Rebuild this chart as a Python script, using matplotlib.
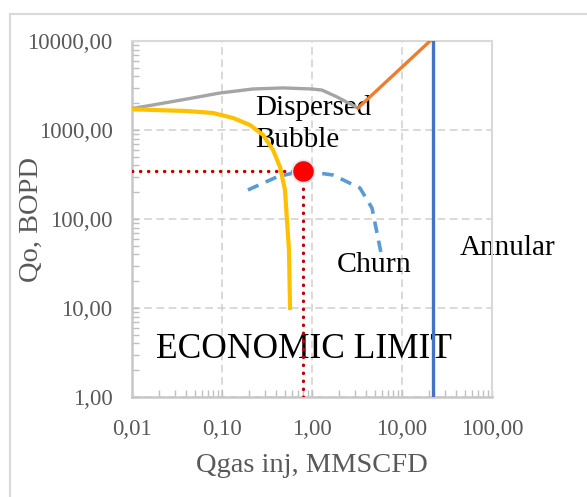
import matplotlib
matplotlib.use("Agg")
import matplotlib.pyplot as plt
from matplotlib.lines import Line2D

# ---- data ----
x_ticks = [0.01, 0.1, 1, 10, 100]
x_tick_labels = ["0,01", "0,10", "1,00", "10,00", "100,00"]
y_ticks = [1, 10, 100, 1000, 10000]
y_tick_labels = ["1,00", "10,00", "100,00", "1000,00", "10000,00"]

bubble_x = [0.01, 0.0171, 0.0408, 0.095, 0.221, 0.476, 1.0, 1.29, 1.90, 3.24]
bubble_y = [1745, 1910, 2230, 2605, 2890, 2970, 2890, 2810, 2350, 1766]

dispersed_x = [3.24, 20.5]
dispersed_y = [1766, 10000]

ipr_x = [0.01, 0.0171, 0.0408, 0.0794, 0.1325, 0.205, 0.286, 0.369, 0.441, 0.501, 0.527, 0.555, 0.57]
ipr_y = [1710, 1680, 1635, 1553, 1365, 1137, 880, 596, 384, 212, 97.5, 44.9, 10]

churn_x = [0.194, 0.408, 0.79, 1.71, 3.41, 4.64, 5.27, 6.0]
churn_y = [212, 297, 349, 312, 223, 133, 70, 36.5]

annular_x = [22.1, 22.1]
annular_y = [1, 10000]

op_x = 0.79
op_y = 349

W, H = 587, 497
fig = plt.figure(figsize=(W / 100, H / 100), dpi=100)
fig.patch.set_facecolor("white")

# outer chart-area border
fig.add_artist(Line2D([9.5 / W, 1.0], [1 - 14 / H, 1 - 14 / H], color="#d9d9d9", lw=1.5,
                      transform=fig.transFigure))
fig.add_artist(Line2D([9.5 / W, 9.5 / W], [0, 1 - 14 / H], color="#d9d9d9", lw=1.5,
                      transform=fig.transFigure))

ax = fig.add_axes([132 / W, 1 - 397 / H, 360 / W, 356 / H])
ax.set_xscale("log")
ax.set_yscale("log")
ax.set_xlim(0.01, 100)
ax.set_ylim(1, 10000)

serif = ["Liberation Serif", "DejaVu Serif"]
tick_color = "#595959"

ax.set_xticks(x_ticks)
ax.set_xticklabels(x_tick_labels, family=serif, fontsize=16.5, color=tick_color)
ax.set_yticks(y_ticks)
ax.set_yticklabels(y_tick_labels, family=serif, fontsize=16.5, color=tick_color)

ax.tick_params(axis="both", which="major", direction="in", length=5, width=1,
               color="#bfbfbf", pad=14)
ax.tick_params(axis="x", which="major", pad=16)
ax.tick_params(axis="both", which="minor", direction="in", length=5, width=1,
               color="#bfbfbf")
ax.tick_params(axis="x", which="both", top=False)
ax.tick_params(axis="y", which="both", right=False)

for s in ["left", "bottom"]:
    ax.spines[s].set_color("#c8c8c8")
    ax.spines[s].set_linewidth(1.8)
for s in ["top", "right"]:
    ax.spines[s].set_color("#d9d9d9")
    ax.spines[s].set_linewidth(1.5)

ax.grid(True, which="major", color="#d0d0d0", lw=1.1, dashes=(5, 3))
ax.set_axisbelow(True)

ax.set_xlabel("Qgas inj, MMSCFD", family=serif, fontsize=20.5, color=tick_color)
ax.xaxis.label.set_va("baseline")
ax.xaxis.set_label_coords(0.5, (397 - 472) / 356)
ax.set_ylabel("Qo, BOPD", family=serif, fontsize=20.5, color=tick_color)
ax.yaxis.label.set_va("center")
ax.yaxis.set_label_coords((31 - 132) / 360, (397 - 220) / 356)

# ---- series ----
ax.plot(bubble_x, bubble_y, color="#a5a5a5", lw=2.4, zorder=3, solid_capstyle="round")
ax.plot(dispersed_x, dispersed_y, color="#ed7d31", lw=2.4, zorder=3)
ax.plot(ipr_x, ipr_y, color="#ffc000", lw=3.0, zorder=4)
ax.plot(churn_x, churn_y, color="#5b9bd5", lw=2.6, dashes=(3.2, 2.2), zorder=3)
ax.plot(annular_x, annular_y, color="#4472c4", lw=2.4, zorder=3)

# operating point guide lines
ax.plot([0.01, op_x], [op_y, op_y], color="#c00000", lw=2.4, dashes=(0.1, 2.3),
        dash_capstyle="round", zorder=5)
ax.plot([op_x, op_x], [1, op_y], color="#c00000", lw=2.4, dashes=(0.1, 2.3),
        dash_capstyle="round", zorder=5)
ax.plot([op_x], [op_y], marker="o", markersize=16, color="#ff0000",
        markeredgecolor="#e6e6e6", markeredgewidth=1.2, zorder=6, clip_on=False)

# ---- region labels ----
def px_text(px, py, s, size, ha="left"):
    ax.text((px - 132) / 360, (397 - py) / 356, s, transform=ax.transAxes,
            family=serif, fontsize=size, color="black", ha=ha, va="baseline",
            zorder=2, clip_on=False)

px_text(255, 115, "Dispersed", 21)
px_text(255, 147, "Bubble", 21)
px_text(374, 272, "Churn", 21.5, ha="center")
px_text(304, 358, "ECONOMIC LIMIT", 25.5, ha="center")
px_text(460, 255, "Annular", 21)

fig.savefig("out.png", dpi=100, facecolor="white")
